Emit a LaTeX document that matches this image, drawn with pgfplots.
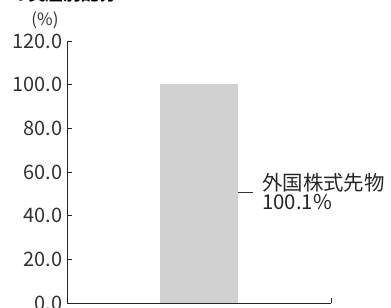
\documentclass[border=0pt]{standalone}
\usepackage{pgfplots}
\pgfplotsset{compat=1.18}
\usepackage{fontspec}
\setmainfont{Noto Sans CJK JP}
\begin{document}
\begin{tikzpicture}[x=1bp,y=1bp]
\useasboundingbox (0,0) rectangle (391,308);
\begin{axis}[
  at={(67bp,5bp)}, anchor=origin,
  scale only axis, width=264bp, height=262bp,
  xmin=0, xmax=1, ymin=0, ymax=120,
  axis x line*=bottom, axis y line*=left,
  axis line style={line width=0.9pt, black!85},
  xtick=\empty,
  ytick={0,20,...,120},
  tick align=inside, major tick length=4.5bp,
  tick style={line width=0.8pt, black!85},
  yticklabel style={/pgf/number format/.cd, fixed, fixed zerofill, precision=1, /tikz/.cd, font=\fontsize{20}{20}\selectfont, text=black!80, xshift=-1bp},
  /pgf/number format/assume math mode=true,
  clip=false,
]
\addplot[ybar, bar width=78bp, fill=black!18, draw=none] coordinates {(0.5,100.1)};
\draw[line width=0.9pt, black!85] (rel axis cs:1,0) -- ++(0,5bp);
\draw[line width=0.7pt, black!80] (axis cs:0.6477,50.5) -- ++(15bp,0);
\node[anchor=west, inner sep=0, align=left, font=\fontsize{20.5}{18.5}\selectfont, text=black!85] at ([xshift=24bp,yshift=1bp]axis cs:0.6477,50.5) {外国株式先物\\100.1\%};
\end{axis}
\node[anchor=south, inner sep=0, font=\fontsize{17}{17}\selectfont, text=black!80] at (45,279) {(\%)};
\node[anchor=south west, inner sep=0, font=\bfseries\fontsize{18}{18}\selectfont, text=black] at (-8,305) {ンの資産別配分};
\end{tikzpicture}
\end{document}
